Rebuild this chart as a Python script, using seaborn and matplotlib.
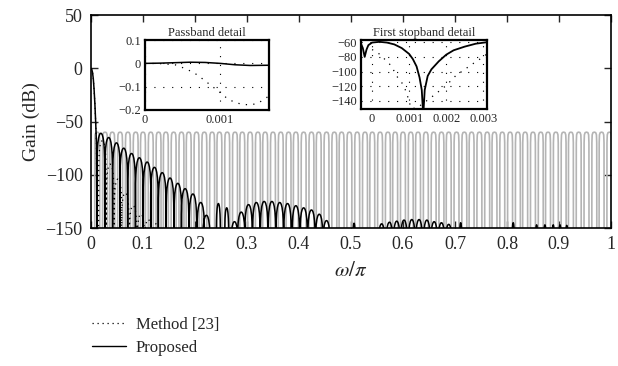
import numpy as np
import pandas as pd
import matplotlib
matplotlib.use("Agg")
import matplotlib.pyplot as plt
from matplotlib.lines import Line2D
import seaborn as sns

# ---- data (w/pi, gain dB) ----
# passband + transition of both designs (main plot)
main_f = [0, 0.0015, 0.003, 0.0045, 0.006, 0.0075, 0.009, 0.0105, 0.0115]
main_db = [0, -1, -4, -10, -20, -33, -50, -70, -160]

# proposed: stopband sidelobe peaks
prop_sl_f = [0.019, 0.034, 0.049, 0.063, 0.078, 0.093, 0.108, 0.122, 0.137,
             0.152, 0.167, 0.181, 0.196, 0.211, 0.222]
prop_sl_db = [-61, -65, -70, -75, -80, -84, -88, -93, -98, -103, -108, -113,
              -118, -126, -138]
prop_mid_f = [0.245, 0.261]
prop_mid_db = [-127, -131]
prop_hi_f = [0.276, 0.289, 0.303, 0.318, 0.333, 0.348, 0.363, 0.378, 0.394,
             0.409, 0.424, 0.439, 0.453]
prop_hi_db = [-144, -135, -128, -126, -125, -125, -126, -127, -129, -131, -133,
              -137, -143]
prop_far_f = [0.559, 0.574, 0.588, 0.602, 0.617, 0.631, 0.646, 0.660, 0.674, 0.688]
prop_far_db = [-146, -144.5, -143.5, -142.5, -142, -142, -142.5, -144, -145, -146.5]
prop_spike_f = [0.506, 0.711, 0.812, 0.857, 0.873, 0.889, 0.902, 0.915]
prop_spike_db = [-145.5, -145, -145, -147, -147, -147, -147, -147.5]

# method [23]: sidelobe peaks
meth_sl_f = [0.022, 0.037, 0.052, 0.066, 0.081, 0.096, 0.110, 0.125]
meth_sl_db = [-68, -90, -104, -117, -129, -137, -142, -146]

# grey comb (mask) pulse centres, top at -60 dB
comb_f = [0.012, 0.027, 0.041, 0.056, 0.071, 0.086, 0.100, 0.115, 0.130, 0.144,
          0.159, 0.174, 0.188, 0.203, 0.218, 0.233, 0.247, 0.262, 0.277, 0.291,
          0.306, 0.321, 0.335, 0.350, 0.365, 0.380, 0.394, 0.409, 0.424, 0.438,
          0.453, 0.468, 0.482, 0.497, 0.512, 0.527, 0.541, 0.556, 0.571, 0.585,
          0.600, 0.615, 0.629, 0.644, 0.659, 0.674, 0.688, 0.703, 0.718, 0.732,
          0.747, 0.762, 0.776, 0.791, 0.806, 0.821, 0.835, 0.850, 0.865, 0.879,
          0.894, 0.909, 0.923, 0.938, 0.953, 0.968, 0.982, 0.997]
comb_top = -60

# passband detail inset
pb_prop_f = [0, 0.0002, 0.0004, 0.0006, 0.0008, 0.001, 0.0012, 0.0014, 0.00165]
pb_prop_db = [0, 0.001, 0.003, 0.005, 0.004, 0.0, -0.006, -0.009, -0.008]
pb_meth_f = [0, 0.0002, 0.0004, 0.0005, 0.0006, 0.0007, 0.0008, 0.0009, 0.001,
             0.0011, 0.0012, 0.0013, 0.0014, 0.0015, 0.00165]
pb_meth_db = [0, -0.001, -0.006, -0.018, -0.032, -0.05, -0.075, -0.1, -0.125,
              -0.152, -0.168, -0.176, -0.178, -0.172, -0.14]

# first stopband detail inset
sb_prop_f = [-0.0003, -0.00025, -0.0002, -0.00015, -0.0001, 0, 0.0002, 0.0004,
             0.0006, 0.0008, 0.001, 0.0011, 0.0012, 0.00128, 0.00134, 0.00138,
             0.00142, 0.0015, 0.0016, 0.0018, 0.002, 0.0022, 0.0025, 0.0028, 0.0031]
sb_prop_db = [-62, -68, -80, -70, -64, -60.5, -59.5, -60.5, -63, -68, -76, -83,
              -93, -108, -125, -160, -125, -106, -97, -86, -77, -71, -66, -62, -60]
sb_meth_f = [0, 0.00017, 0.0004, 0.00053, 0.00066, 0.0008, 0.00089, 0.00098,
             0.00105, 0.0012, 0.0016, 0.002, 0.00225, 0.0025, 0.0027, 0.003, 0.0031]
sb_meth_db = [-70, -75, -86, -93, -106, -115, -124, -137, -150, -150, -135,
              -119, -106, -97, -90, -80, -76]

# shape of one sidelobe (fraction of lobe width from null, dB below peak)
lobe_t = [0, 0.02, 0.05, 0.1, 0.2, 0.3, 0.4, 0.5]
lobe_drop = [-200, -24, -16, -10, -4.6, -1.8, -0.4, 0]
# shape of one grey pulse (fraction of half width, dB)
pulse_t = [-1, -0.97, -0.85, -0.55, 0, 0.55, 0.85, 0.97, 1]
pulse_db = [-160, -70, -62.5, -60.4, 0, -60.4, -62.5, -70, -160]


def lobes(peak_f, peak_db, half_w):
    xs, ys = [], []
    for f, g in zip(peak_f, peak_db):
        ts = lobe_t + [1 - t for t in lobe_t[-2::-1]]
        ds = lobe_drop + lobe_drop[-2::-1]
        for t, d in zip(ts, ds):
            xs.append(f - half_w + 2 * half_w * t)
            ys.append(max(g + d, -160))
    return xs, ys


def comb(centres, half_w):
    xs, ys = [], []
    for c in centres:
        for t, d in zip(pulse_t, pulse_db):
            xs.append(c + t * half_w)
            ys.append(comb_top if d == 0 else d)
    return xs, ys


sns.set_theme(style="ticks")
plt.rcParams["font.family"] = ["Liberation Serif", "DejaVu Serif"]
plt.rcParams["mathtext.fontset"] = "stix"
plt.rcParams["axes.linewidth"] = 1.2

fig = plt.figure(figsize=(6.18, 3.66), dpi=100)
ax = fig.add_axes([0.1472, 0.377, 0.8414, 0.582])

# grey comb
cx, cy = comb(comb_f, 0.0048)
sns.lineplot(x=cx, y=cy, ax=ax, color="#b4b4b4", lw=1.2, estimator=None, sort=False, zorder=1)

# proposed
px, py = list(main_f), list(main_db)
for f, g, h in [(prop_sl_f, prop_sl_db, 0.0074), (prop_mid_f, prop_mid_db, 0.004),
                (prop_hi_f, prop_hi_db, 0.0074), (prop_far_f, prop_far_db, 0.007),
                (prop_spike_f, prop_spike_db, 0.0025)]:
    lx, ly = lobes(f, g, h)
    px += lx
    py += ly
prop_df = pd.DataFrame({"w": px, "gain": py})
sns.lineplot(data=prop_df, x="w", y="gain", ax=ax, color="black", lw=1.1,
             estimator=None, sort=False, zorder=3)

# method [23]
mx, my = lobes(meth_sl_f, meth_sl_db, 0.0074)
meth_df = pd.DataFrame({"w": main_f + mx, "gain": main_db + my})
sns.lineplot(data=meth_df, x="w", y="gain", ax=ax, color="black", lw=0.9,
             linestyle=(0, (1, 3)), estimator=None, sort=False, zorder=2)

ax.set_xlim(0, 1)
ax.set_ylim(-150, 50)
ax.set_xticks(np.linspace(0, 1, 11))
ax.set_xticklabels(["0", "0.1", "0.2", "0.3", "0.4", "0.5", "0.6", "0.7", "0.8", "0.9", "1"])
ax.set_yticks([50, 0, -50, -100, -150])
ax.set_yticklabels(["50", "0", "\u221250", "\u2212100", "\u2212150"])
ax.tick_params(direction="in", length=5, width=1, labelsize=13, top=True, right=True, pad=6)
for s in ax.spines.values():
    s.set_color("black")
ax.set_xlabel(r"$\omega/\pi$", fontsize=15, labelpad=6)
ax.set_ylabel("Gain (dB)", fontsize=14, labelpad=4)

# passband inset
ax1 = fig.add_axes([0.2346, 0.6995, 0.2006, 0.191])
sns.lineplot(x=pb_prop_f, y=pb_prop_db, ax=ax1, color="black", lw=1.1, estimator=None, sort=False)
sns.lineplot(x=pb_meth_f, y=pb_meth_db, ax=ax1, color="black", lw=0.9,
             linestyle=(0, (1, 5)), estimator=None, sort=False)
ax1.set_xlim(0, 0.00165)
ax1.set_ylim(-0.2, 0.1)
ax1.set_xticks([0, 0.001])
ax1.set_xticklabels(["0", "0.001"])
ax1.set_yticks([0.1, 0, -0.1, -0.2])
ax1.set_yticklabels(["0.1", "0", "\u22120.1", "\u22120.2"])
ax1.set_title("Passband detail", fontsize=9, pad=3)

# first stopband inset
ax2 = fig.add_axes([0.5841, 0.7022, 0.2039, 0.1885])
sns.lineplot(x=sb_prop_f, y=sb_prop_db, ax=ax2, color="black", lw=1.3, estimator=None, sort=False)
sns.lineplot(x=sb_meth_f, y=sb_meth_db, ax=ax2, color="black", lw=0.9,
             linestyle=(0, (1, 5)), estimator=None, sort=False)
ax2.set_xlim(-0.0003, 0.0031)
ax2.set_ylim(-151, -57)
ax2.set_xticks([0, 0.001, 0.002, 0.003])
ax2.set_xticklabels(["0", "0.001", "0.002", "0.003"])
ax2.set_yticks([-60, -80, -100, -120, -140])
ax2.set_yticklabels(["\u221260", "\u221280", "\u2212100", "\u2212120", "\u2212140"])
ax2.set_title("First stopband detail", fontsize=9, pad=3)

for a in (ax1, ax2):
    a.grid(True, color="black", lw=0.8, linestyle=(0, (1, 7)))
    a.tick_params(direction="in", length=0, labelsize=9, pad=3)
    a.set_xlabel("")
    a.set_ylabel("")
    for s in a.spines.values():
        s.set_linewidth(1.6)
        s.set_color("black")

handles = [Line2D([], [], color="black", lw=0.9, linestyle=(0, (1, 3))),
           Line2D([], [], color="black", lw=1.0)]
fig.legend(handles, ["Method [23]", "Proposed"], loc="upper left",
           bbox_to_anchor=(0.136, 0.158), frameon=False, fontsize=12,
           handlelength=2.0, handletextpad=0.6, labelspacing=0.45, borderpad=0)

fig.savefig("out.png", dpi=100)
